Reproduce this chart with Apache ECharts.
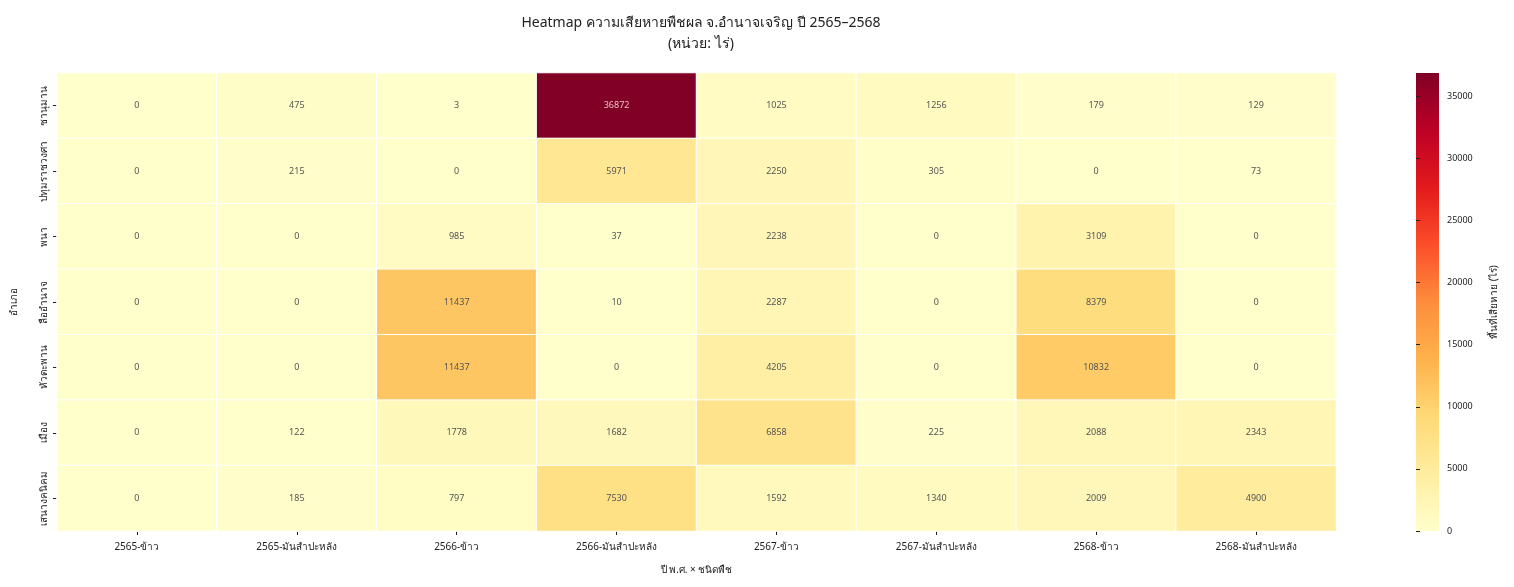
<!DOCTYPE html>
<html>
<head>
<meta charset="utf-8">
<script src="https://cdn.jsdelivr.net/npm/echarts@6/dist/echarts.min.js"></script>
<style>
html, body { margin: 0; padding: 0; background: #fff; }
#main { width: 1514px; height: 587px; }
</style>
</head>
<body>
<div id="main"></div>
<script>
var cropCols = ['2565-ข้าว', '2565-มันสำปะหลัง', '2566-ข้าว', '2566-มันสำปะหลัง',
    '2567-ข้าว', '2567-มันสำปะหลัง', '2568-ข้าว', '2568-มันสำปะหลัง'];
var districts = ['ชานุมาน', 'ปทุมราชวงศา', 'พนา', 'ลืออำนาจ', 'หัวตะพาน', 'เมือง', 'เสนางคนิคม'];
// พื้นที่เสียหาย (ไร่) ต่ออำเภอ เรียงตาม cropCols
var chanuman = [0, 475, 3, 36872, 1025, 1256, 179, 129];
var pathum = [0, 215, 0, 5971, 2250, 305, 0, 73];
var phana = [0, 0, 985, 37, 2238, 0, 3109, 0];
var luamnat = [0, 0, 11437, 10, 2287, 0, 8379, 0];
var huataphan = [0, 0, 11437, 0, 4205, 0, 10832, 0];
var mueang = [0, 122, 1778, 1682, 6858, 225, 2088, 2343];
var senang = [0, 185, 797, 7530, 1592, 1340, 2009, 4900];
var colorTicks = [0, 5000, 10000, 15000, 20000, 25000, 30000, 35000];

var rows = [chanuman, pathum, phana, luamnat, huataphan, mueang, senang];
var maxVal = 36872;
var font = 'Noto Sans, sans-serif';
var ylorrd = ['#ffffcc', '#ffeda0', '#fed976', '#feb24c', '#fd8d3c', '#fc4e2a', '#e31a1c', '#bd0026', '#800026'];

var cells = [];
for (var r = 0; r < rows.length; r++) {
    for (var c = 0; c < rows[r].length; c++) {
        var v = rows[r][c];
        cells.push({
            value: [c, r, v],
            label: { color: v > maxVal * 0.6 ? 'rgba(255,220,230,0.85)' : '#555' }
        });
    }
}

// แถบสี (colorbar) ทำจาก gradient ของ grid ที่สอง
var barStops = ylorrd.map(function (col, i) {
    return { offset: i / (ylorrd.length - 1), color: col };
});

var myChart = echarts.init(document.getElementById('main'));
var option = {
    backgroundColor: '#fff',
    textStyle: { fontFamily: font },
    title: {
        text: 'Heatmap ความเสียหายพืชผล จ.อำนาจเจริญ ปี 2565–2568\n(หน่วย: ไร่)',
        left: 696,
        textAlign: 'center',
        top: 8,
        textStyle: { fontSize: 14, fontWeight: 'normal', color: '#222', lineHeight: 21, fontFamily: font }
    },
    grid: [
        { left: 57, top: 73, width: 1279, height: 458 },
        {
            left: 1416, top: 73, width: 23, height: 458, show: true, borderWidth: 0,
            backgroundColor: new echarts.graphic.LinearGradient(0, 1, 0, 0, barStops)
        }
    ],
    xAxis: [
        {
            type: 'category', gridIndex: 0, data: cropCols,
            name: 'ปี พ.ศ. × ชนิดพืช', nameLocation: 'middle', nameGap: 34,
            nameTextStyle: { fontSize: 10, color: '#222' },
            axisLine: { show: false },
            axisTick: { show: true, alignWithLabel: true, length: 4, lineStyle: { color: '#222' } },
            axisLabel: { fontSize: 10, color: '#222', margin: 11, interval: 0 },
            splitArea: { show: false }
        },
        { type: 'value', gridIndex: 1, show: false, min: 0, max: 1 }
    ],
    yAxis: [
        {
            type: 'category', gridIndex: 0, data: districts, inverse: true,
            name: 'อำเภอ', nameLocation: 'middle', nameGap: 38, nameRotate: 90,
            nameTextStyle: { fontSize: 10, color: '#222' },
            axisLine: { show: false },
            axisTick: { show: true, alignWithLabel: true, length: 4, lineStyle: { color: '#222' } },
            axisLabel: { fontSize: 10, color: '#222', rotate: 90, margin: 8, interval: 0 }
        },
        {
            type: 'value', gridIndex: 1, position: 'right', min: 0, max: maxVal, interval: 5000,
            name: 'พื้นที่เสียหาย (ไร่)', nameLocation: 'middle', nameGap: 50, nameRotate: 90,
            nameTextStyle: { fontSize: 10, color: '#222' },
            axisLine: { show: false },
            axisTick: { show: true, length: 4, lineStyle: { color: '#222' }, customValues: colorTicks },
            axisLabel: {
                fontSize: 9, color: '#222', margin: 8, customValues: colorTicks,
                formatter: function (v) { return String(v); }
            },
            splitLine: { show: false }
        }
    ],
    visualMap: {
        type: 'continuous',
        min: 0, max: maxVal,
        show: false,
        seriesIndex: 0,
        inRange: { color: ylorrd }
    },
    series: [{
        type: 'heatmap',
        xAxisIndex: 0, yAxisIndex: 0,
        data: cells,
        label: { show: true, fontSize: 9, fontFamily: font },
        itemStyle: { borderColor: '#fff', borderWidth: 1 },
        emphasis: { disabled: true }
    }]
};
myChart.setOption(option);
</script>
</body>
</html>
